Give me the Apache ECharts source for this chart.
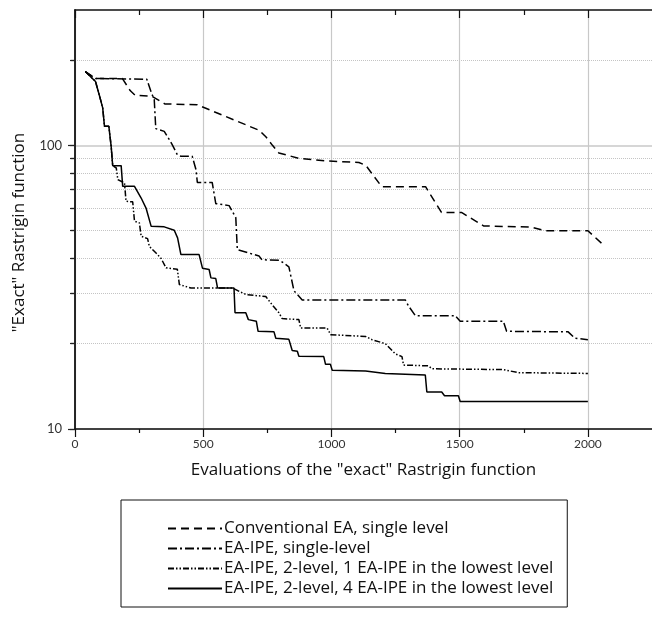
<!DOCTYPE html>
<html>
<head>
<meta charset="utf-8">
<script src="https://cdn.jsdelivr.net/npm/echarts@6/dist/echarts.min.js"></script>
<style>
  html, body { margin: 0; padding: 0; background: #fff; }
  #main { width: 652px; height: 618px; }
</style>
</head>
<body>
<div id="main"></div>
<script>
// tick values
var xMajorTicks = [0, 500, 1000, 1500, 2000];
var xMinorTicks = [250, 750, 1250, 1750];
var yMajorTicks = [10, 100];
var yMinorTicks = [20, 30, 40, 50, 60, 70, 80, 90, 200];

var seriesNames = [
  'Conventional EA, single level',
  'EA-IPE, single-level',
  'EA-IPE, 2-level, 1 EA-IPE in the lowest level',
  'EA-IPE, 2-level, 4 EA-IPE in the lowest level'
];

// [evaluations, best value]
var convEA = [[40,182],[80,172],[185,172],[215,156],[235,150],[300,149],[350,140],[477,139],[718,113],[745,107],[770,100],[795,94],[873,90],[990,88],[1107,87],[1134,85],[1196,71.5],[1367,71.5],[1386,67],[1429,58],[1507,58],[1593,52],[1779,51.5],[1834,50],[2000,50],[2067,44]];

var ipeSingle = [[40,182],[80,172],[280,171],[298,153],[309,145],[315,114.5],[348,112],[368,104.7],[379,100.6],[399,92.7],[413,91.5],[457,91.5],[472,82],[477,74],[535,74],[549,62.3],[601,61.3],[627,55.6],[633,42.9],[679,41.7],[718,40.7],[729,39.5],[799,39.3],[834,37.3],[854,30.7],[886,28.5],[1288,28.5],[1301,27.1],[1327,25.1],[1482,25.1],[1502,24],[1670,24],[1683,22.1],[1923,22],[1949,20.9],[2000,20.65]];

var ipe2Level1 = [[40,182],[80,168],[96,149],[108,135.5],[115,116.7],[132,116.7],[141,99.2],[147,84.8],[161,83.2],[167,75.7],[193,73.7],[199,63.5],[225,63.2],[232,54],[251,53.3],[258,47.8],[283,46.9],[290,44],[316,41.7],[336,39.9],[355,37],[399,36.6],[407,32.3],[452,31.4],[614,31.4],[666,29.8],[744,29.3],[769,27.4],[795,25.7],[808,24.5],[873,24.3],[880,22.7],[983,22.7],[997,21.5],[1133,21.2],[1158,20.65],[1210,20],[1249,18.4],[1275,18],[1281,16.8],[1378,16.7],[1392,16.3],[1670,16.2],[1728,15.8],[2000,15.7]];

var ipe2Level4 = [[40,182],[80,168],[96,149],[108,135.5],[115,116.7],[132,116.7],[141,99.2],[147,84.8],[180,84.8],[186,71.7],[232,71.7],[258,65.2],[277,60.1],[297,51.8],[348,51.6],[387,50.2],[400,47.2],[413,41.2],[484,41.2],[497,36.9],[523,36.5],[530,34.1],[549,33.9],[556,31.4],[620,31.4],[624,25.7],[666,25.7],[676,24.3],[707,24],[714,22.1],[776,22],[783,20.9],[834,20.7],[847,18.9],[867,18.8],[873,18.05],[970,18],[977,16.9],[996,16.9],[1003,16.1],[1133,16],[1210,15.7],[1366,15.5],[1372,13.5],[1430,13.5],[1441,13.1],[1495,13.1],[1502,12.5],[2000,12.5]];

var seriesData = [convEA, ipeSingle, ipe2Level1, ipe2Level4];
var dashTypes = [[8, 5], [9, 3, 2, 3], [6, 2, 1.5, 2, 1.5, 2], 'solid'];

var tickFont = 'Lato, sans-serif';
var font = '"Open Sans", Lato, sans-serif';
var chart = echarts.init(document.getElementById('main'));

function xAx(pos, ticks, len, inside, extra) {
  return Object.assign({
    type: 'value', position: pos, min: 0, max: 2250, gridIndex: 0,
    axisLine: { show: false },
    axisTick: { show: true, inside: inside, length: len, customValues: ticks,
      lineStyle: { color: '#111', width: 1.2 } },
    axisLabel: { show: false },
    splitLine: { show: false }
  }, extra || {});
}
function yAx(pos, ticks, len, inside, extra) {
  return Object.assign({
    type: 'log', logBase: 10, position: pos, min: 10, max: 300, gridIndex: 0,
    axisLine: { show: false },
    axisTick: { show: true, inside: inside, length: len, customValues: ticks,
      lineStyle: { color: '#222', width: 1.2 } },
    axisLabel: { show: false },
    splitLine: { show: false }
  }, extra || {});
}

var option = {
  animation: false,
  backgroundColor: '#fff',
  grid: { left: 75, top: 10, width: 579, height: 419, containLabel: false },
  xAxis: [
    xAx('bottom', xMajorTicks, 8, false, {
      axisLine: { show: true, lineStyle: { color: '#111', width: 1.5 } },
      axisLabel: { show: true, customValues: xMajorTicks, margin: 9,
        fontFamily: tickFont, fontSize: 12, color: '#333',
        formatter: function (v) { return String(v); } },
      splitLine: { show: true, lineStyle: { color: '#c8c8c8', width: 1.2 } },
      name: 'Evaluations of the "exact" Rastrigin function',
      nameLocation: 'middle', nameGap: 33,
      nameTextStyle: { fontFamily: font, fontSize: 17, color: '#111' }
    }),
    xAx('bottom', xMinorTicks, 4, false),
    xAx('top', xMajorTicks, 8, true, {
      axisLine: { show: true, lineStyle: { color: '#111', width: 1.5 } }
    }),
    xAx('top', xMinorTicks, 5, true)
  ],
  yAxis: [
    yAx('left', yMajorTicks, 7, false, {
      axisLine: { show: true, lineStyle: { color: '#444', width: 1.5 } },
      axisLabel: { show: true, customValues: yMajorTicks, margin: 13,
        fontFamily: tickFont, fontSize: 13, color: '#333' },
      splitLine: { show: true, lineStyle: { color: '#c8c8c8', width: 1.5 } },
      name: '"Exact" Rastrigin function',
      nameLocation: 'middle', nameGap: 47,
      nameTextStyle: { fontFamily: font, fontSize: 17, color: '#111', padding: [0, 26, 0, 0] }
    }),
    yAx('left', yMinorTicks, 4, false, {
      splitLine: { show: true, lineStyle: { color: '#c4c4c4', width: 1, type: [1, 1] } }
    }),
    yAx('right', yMajorTicks.concat(yMinorTicks), 5, true, {
      axisLine: { show: true, lineStyle: { color: '#111', width: 1.5 } }
    })
  ],
  legend: {
    orient: 'vertical', left: 121, top: 500,
    padding: [20, 14, 10, 46],
    itemGap: 3, itemWidth: 54, itemHeight: 14,
    borderColor: '#111', borderWidth: 1,
    itemStyle: { opacity: 0 },
    textStyle: { fontFamily: font, fontSize: 17, color: '#111', padding: [0, 0, 0, -3] },
    data: seriesNames
  },
  series: seriesNames.map(function (name, i) {
    return {
      name: name, type: 'line', xAxisIndex: 0, yAxisIndex: 0,
      symbol: 'none', data: seriesData[i],
      lineStyle: { color: '#000', width: 1.5, type: dashTypes[i] },
      itemStyle: { color: '#000' }
    };
  })
};
chart.setOption(option);
</script>
</body>
</html>
